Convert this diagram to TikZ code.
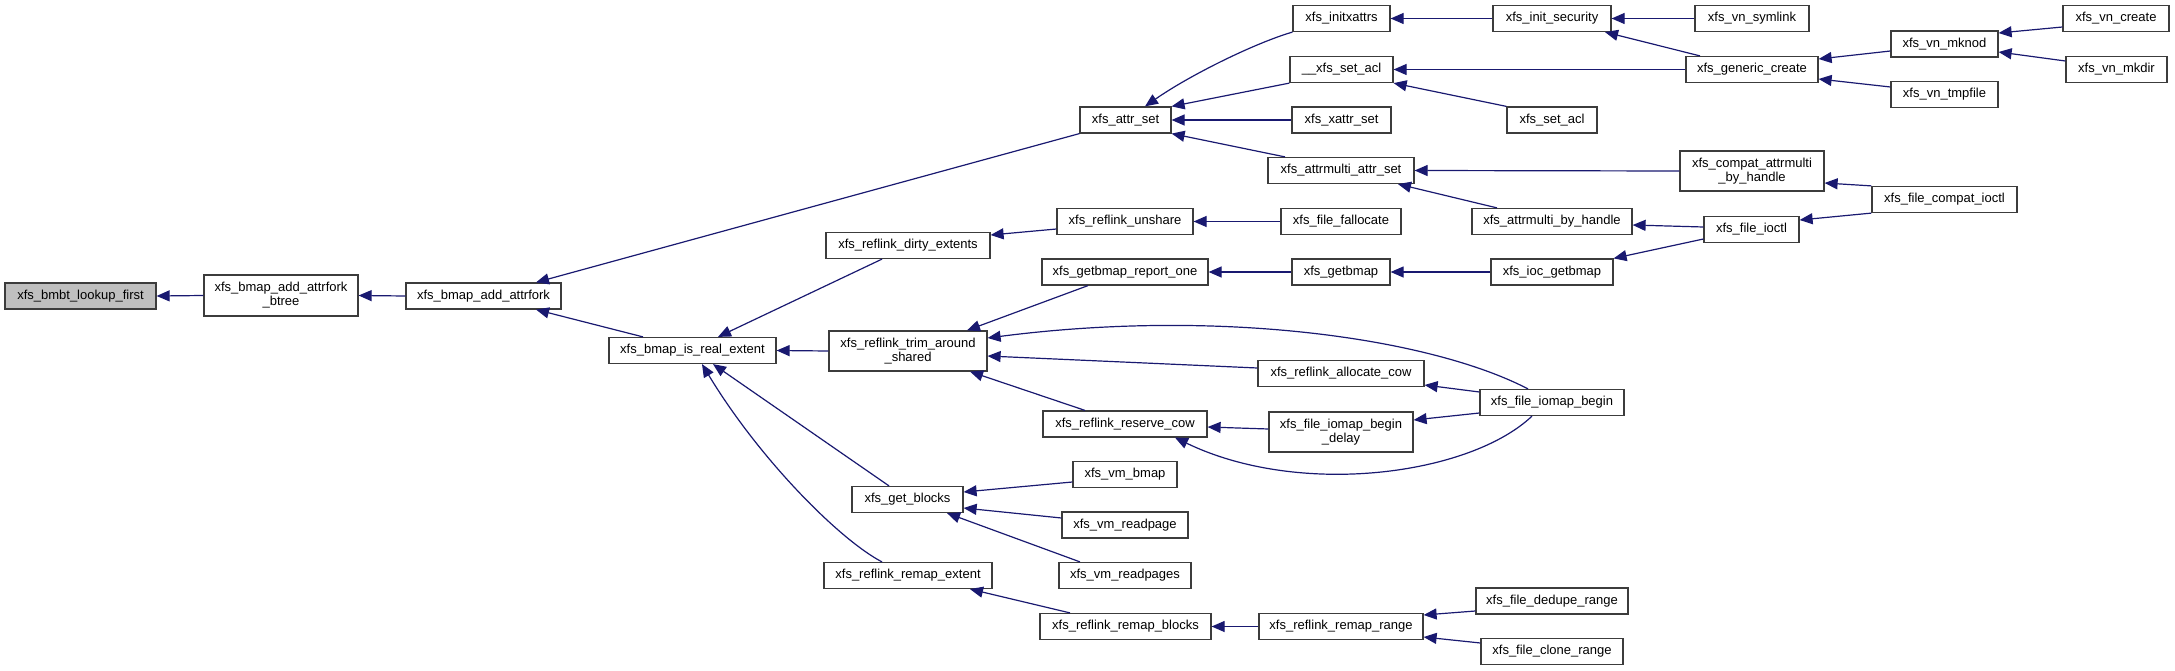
\documentclass[tikz,border=0pt]{standalone}
\usepackage{fontspec}
\setmainfont{Liberation Sans}
\usetikzlibrary{arrows.meta}
\definecolor{callcol}{RGB}{25,25,112}
\definecolor{rootgray}{RGB}{191,191,191}
\definecolor{boxline}{RGB}{60,60,60}

\begin{document}
\begin{tikzpicture}[x=1pt, y=-1pt, font=\fontsize{13}{14}\selectfont,
  fn/.style={draw=boxline, line width=1.2pt, fill=white, minimum height=26pt,
    inner sep=0pt, align=center},
  call/.style={callcol, line width=1.2pt, -{Triangle[length=13pt,width=11pt]}}]

\useasboundingbox (0,0) rectangle (2175,671);

% ---- column 0-2: root and its callers ----
\node[fn, fill=rootgray, minimum width=151pt] (lookup) at (80.5,296) {xfs\_bmbt\_lookup\_first};
\node[fn, minimum width=154pt, minimum height=41pt] (btree) at (281,295.5) {xfs\_bmap\_add\_attrfork\\\_btree};
\node[fn, minimum width=155pt] (addfork) at (483.5,296) {xfs\_bmap\_add\_attrfork};

% ---- column 3 ----
\node[fn, minimum width=167pt] (realext) at (692.5,350.5) {xfs\_bmap\_is\_real\_extent};

% ---- column 4 ----
\node[fn, minimum width=164pt] (dirty) at (908,245.5) {xfs\_reflink\_dirty\_extents};
\node[fn, minimum width=158pt, minimum height=40pt] (trim) at (908,351) {xfs\_reflink\_trim\_around\\\_shared};
\node[fn, minimum width=111pt] (getblocks) at (907.5,499.5) {xfs\_get\_blocks};
\node[fn, minimum width=168pt] (remapext) at (908,575.5) {xfs\_reflink\_remap\_extent};

% ---- column 5 ----
\node[fn, minimum width=91pt] (attrset) at (1125.5,120) {xfs\_attr\_set};
\node[fn, minimum width=136pt] (unshare) at (1125,221.5) {xfs\_reflink\_unshare};
\node[fn, minimum width=166pt] (reportone) at (1125,272) {xfs\_getbmap\_report\_one};
\node[fn, minimum width=164pt] (reservecow) at (1125,424) {xfs\_reflink\_reserve\_cow};
\node[fn, minimum width=104pt] (vmbmap) at (1125,474.5) {xfs\_vm\_bmap};
\node[fn, minimum width=126pt] (readpage) at (1125,525) {xfs\_vm\_readpage};
\node[fn, minimum width=132pt] (readpages) at (1125,575.5) {xfs\_vm\_readpages};
\node[fn, minimum width=171pt] (remapblocks) at (1125.5,626.5) {xfs\_reflink\_remap\_blocks};

% ---- column 6 ----
\node[fn, minimum width=97pt] (initxattrs) at (1341.5,18.5) {xfs\_initxattrs};
\node[fn, minimum width=103pt] (setaclint) at (1341.5,69.5) {\_\_xfs\_set\_acl};
\node[fn, minimum width=99pt] (xattrset) at (1341.5,120) {xfs\_xattr\_set};
\node[fn, minimum width=146pt] (attrmultiset) at (1341,170.5) {xfs\_attrmulti\_attr\_set};
\node[fn, minimum width=120pt] (fallocate) at (1341,221.5) {xfs\_file\_fallocate};
\node[fn, minimum width=98pt] (getbmap) at (1341,272) {xfs\_getbmap};
\node[fn, minimum width=166pt] (alloccow) at (1341,373.5) {xfs\_reflink\_allocate\_cow};
\node[fn, minimum width=144pt, minimum height=40pt] (iomapdelay) at (1341,432) {xfs\_file\_iomap\_begin\\\_delay};
\node[fn, minimum width=164pt] (remaprange) at (1341,626.5) {xfs\_reflink\_remap\_range};

% ---- column 7 ----
\node[fn, minimum width=118pt] (initsec) at (1552,18.5) {xfs\_init\_security};
\node[fn, minimum width=90pt] (setacl) at (1552,120) {xfs\_set\_acl};
\node[fn, minimum width=160pt] (attrmultihandle) at (1552,221.5) {xfs\_attrmulti\_by\_handle};
\node[fn, minimum width=122pt] (iocgetbmap) at (1552,272) {xfs\_ioc\_getbmap};
\node[fn, minimum width=144pt] (iomapbegin) at (1552,402.5) {xfs\_file\_iomap\_begin};
\node[fn, minimum width=152pt] (dedupe) at (1552,601) {xfs\_file\_dedupe\_range};
\node[fn, minimum width=142pt] (clone) at (1552,651.5) {xfs\_file\_clone\_range};

% ---- column 8 ----
\node[fn, minimum width=114pt] (symlink) at (1752,18.5) {xfs\_vn\_symlink};
\node[fn, minimum width=132pt] (generic) at (1752,69.5) {xfs\_generic\_create};
\node[fn, minimum width=144pt, minimum height=40pt] (compathandle) at (1752,171) {xfs\_compat\_attrmulti\\\_by\_handle};
\node[fn, minimum width=95pt] (fileioctl) at (1751.5,229.5) {xfs\_file\_ioctl};

% ---- column 9-10 ----
\node[fn, minimum width=107pt] (mknod) at (1944.5,44) {xfs\_vn\_mknod};
\node[fn, minimum width=107pt] (tmpfile) at (1944.5,94.5) {xfs\_vn\_tmpfile};
\node[fn, minimum width=145pt] (compatioctl) at (1944.5,199.5) {xfs\_file\_compat\_ioctl};
\node[fn, minimum width=106pt] (vncreate) at (2116,18.5) {xfs\_vn\_create};
\node[fn, minimum width=101pt] (vnmkdir) at (2116.5,69.5) {xfs\_vn\_mkdir};

% ---- calls into the root chain ----
\draw[call] (btree.west) -- (lookup.east);
\draw[call] (addfork.west) -- (btree.east);
\draw[call] (attrset.south west) -- ([xshift=52.5pt]addfork.north);
\draw[call] ([xshift=-49.5pt]realext.north) -- ([xshift=52.5pt]addfork.south);

% ---- callers of xfs_bmap_is_real_extent ----
\draw[call] ([xshift=-26pt]dirty.south) -- ([xshift=25.5pt]realext.north);
\draw[call] (trim.west) -- (realext.east);
\draw[call] ([xshift=-18.5pt]getblocks.north) -- ([xshift=20.5pt]realext.south);
\draw[call] ([xshift=-26pt]remapext.north) .. controls (840,540) and (760,460) .. ([xshift=9.5pt]realext.south);

% ---- xfs_attr_set branch ----
\draw[call] (initxattrs.south west) .. controls (1255,43) and (1190,75) .. ([xshift=19.5pt]attrset.north);
\draw[call] (setaclint.south west) -- (attrset.north east);
\draw[call] (xattrset.west) -- (attrset.east);
\draw[call] ([xshift=-56pt]attrmultiset.north) -- (attrset.south east);
\draw[call] (initsec.west) -- (initxattrs.east);
\draw[call] (symlink.west) -- (initsec.east);
\draw[call] ([xshift=-52pt]generic.north) -- ([xshift=53pt]initsec.south);
\draw[call] (generic.west) -- (setaclint.east);
\draw[call] (setacl.north west) -- (setaclint.south east);
\draw[call] (compathandle.west) -- (attrmultiset.east);
\draw[call] ([xshift=-55pt]attrmultihandle.north) -- ([xshift=57pt]attrmultiset.south);
\draw[call] ([yshift=2.5pt]fileioctl.west) -- ([yshift=-3.5pt]attrmultihandle.east);
\draw[call] ([yshift=-9.5pt]fileioctl.west) -- (iocgetbmap.north east);
\draw[call] (compatioctl.north west) -- ([yshift=-12pt]compathandle.east);
\draw[call] (compatioctl.south west) -- ([yshift=9.5pt]fileioctl.east);
\draw[call] ([yshift=-7pt]mknod.west) -- ([yshift=10.5pt]generic.east);
\draw[call] ([yshift=7.5pt]tmpfile.west) -- ([yshift=-9.5pt]generic.east);
\draw[call] ([yshift=-8.5pt]vncreate.west) -- ([yshift=11pt]mknod.east);
\draw[call] ([yshift=8.5pt]vnmkdir.west) -- ([yshift=-8pt]mknod.east);

% ---- reflink / getbmap branch ----
\draw[call] ([yshift=-7.5pt]unshare.west) -- ([yshift=10.5pt]dirty.east);
\draw[call] (fallocate.west) -- (unshare.east);
\draw[call] ([xshift=-37pt]reportone.south) -- ([xshift=59pt]trim.north);
\draw[call] (getbmap.west) -- (reportone.east);
\draw[call] (iocgetbmap.west) -- (getbmap.east);
\draw[call] ([yshift=5.5pt]alloccow.west) -- ([yshift=-5pt]trim.east);
\draw[call] ([xshift=-40pt]reservecow.north) -- ([xshift=62pt]trim.south);
\draw[call] ([xshift=-24pt]iomapbegin.north) .. controls (1430,338) and (1220,308) .. ([yshift=13pt]trim.east);
\draw[call] ([yshift=10.5pt]iomapbegin.west) -- ([yshift=-11.5pt]alloccow.east);
\draw[call] ([yshift=-10.5pt]iomapbegin.west) -- ([yshift=12pt]iomapdelay.east);
\draw[call] ([yshift=3pt]iomapdelay.west) -- ([yshift=-3pt]reservecow.east);
\draw[call] ([xshift=-20pt]iomapbegin.south) .. controls (1470,475) and (1300,498) .. ([xshift=50pt]reservecow.south);

% ---- xfs_get_blocks and remap ----
\draw[call] ([yshift=-7.5pt]vmbmap.west) -- ([yshift=7.5pt]getblocks.east);
\draw[call] ([yshift=7pt]readpage.west) -- ([yshift=-8.5pt]getblocks.east);
\draw[call] ([xshift=-45pt]readpages.north) -- ([xshift=39.5pt]getblocks.south);
\draw[call] ([xshift=-55.5pt]remapblocks.north) -- ([xshift=62pt]remapext.south);
\draw[call] (remaprange.west) -- (remapblocks.east);
\draw[call] ([yshift=-10pt]dedupe.west) -- ([yshift=11.5pt]remaprange.east);
\draw[call] ([yshift=8.5pt]clone.west) -- ([yshift=-10.5pt]remaprange.east);

\end{tikzpicture}
\end{document}
